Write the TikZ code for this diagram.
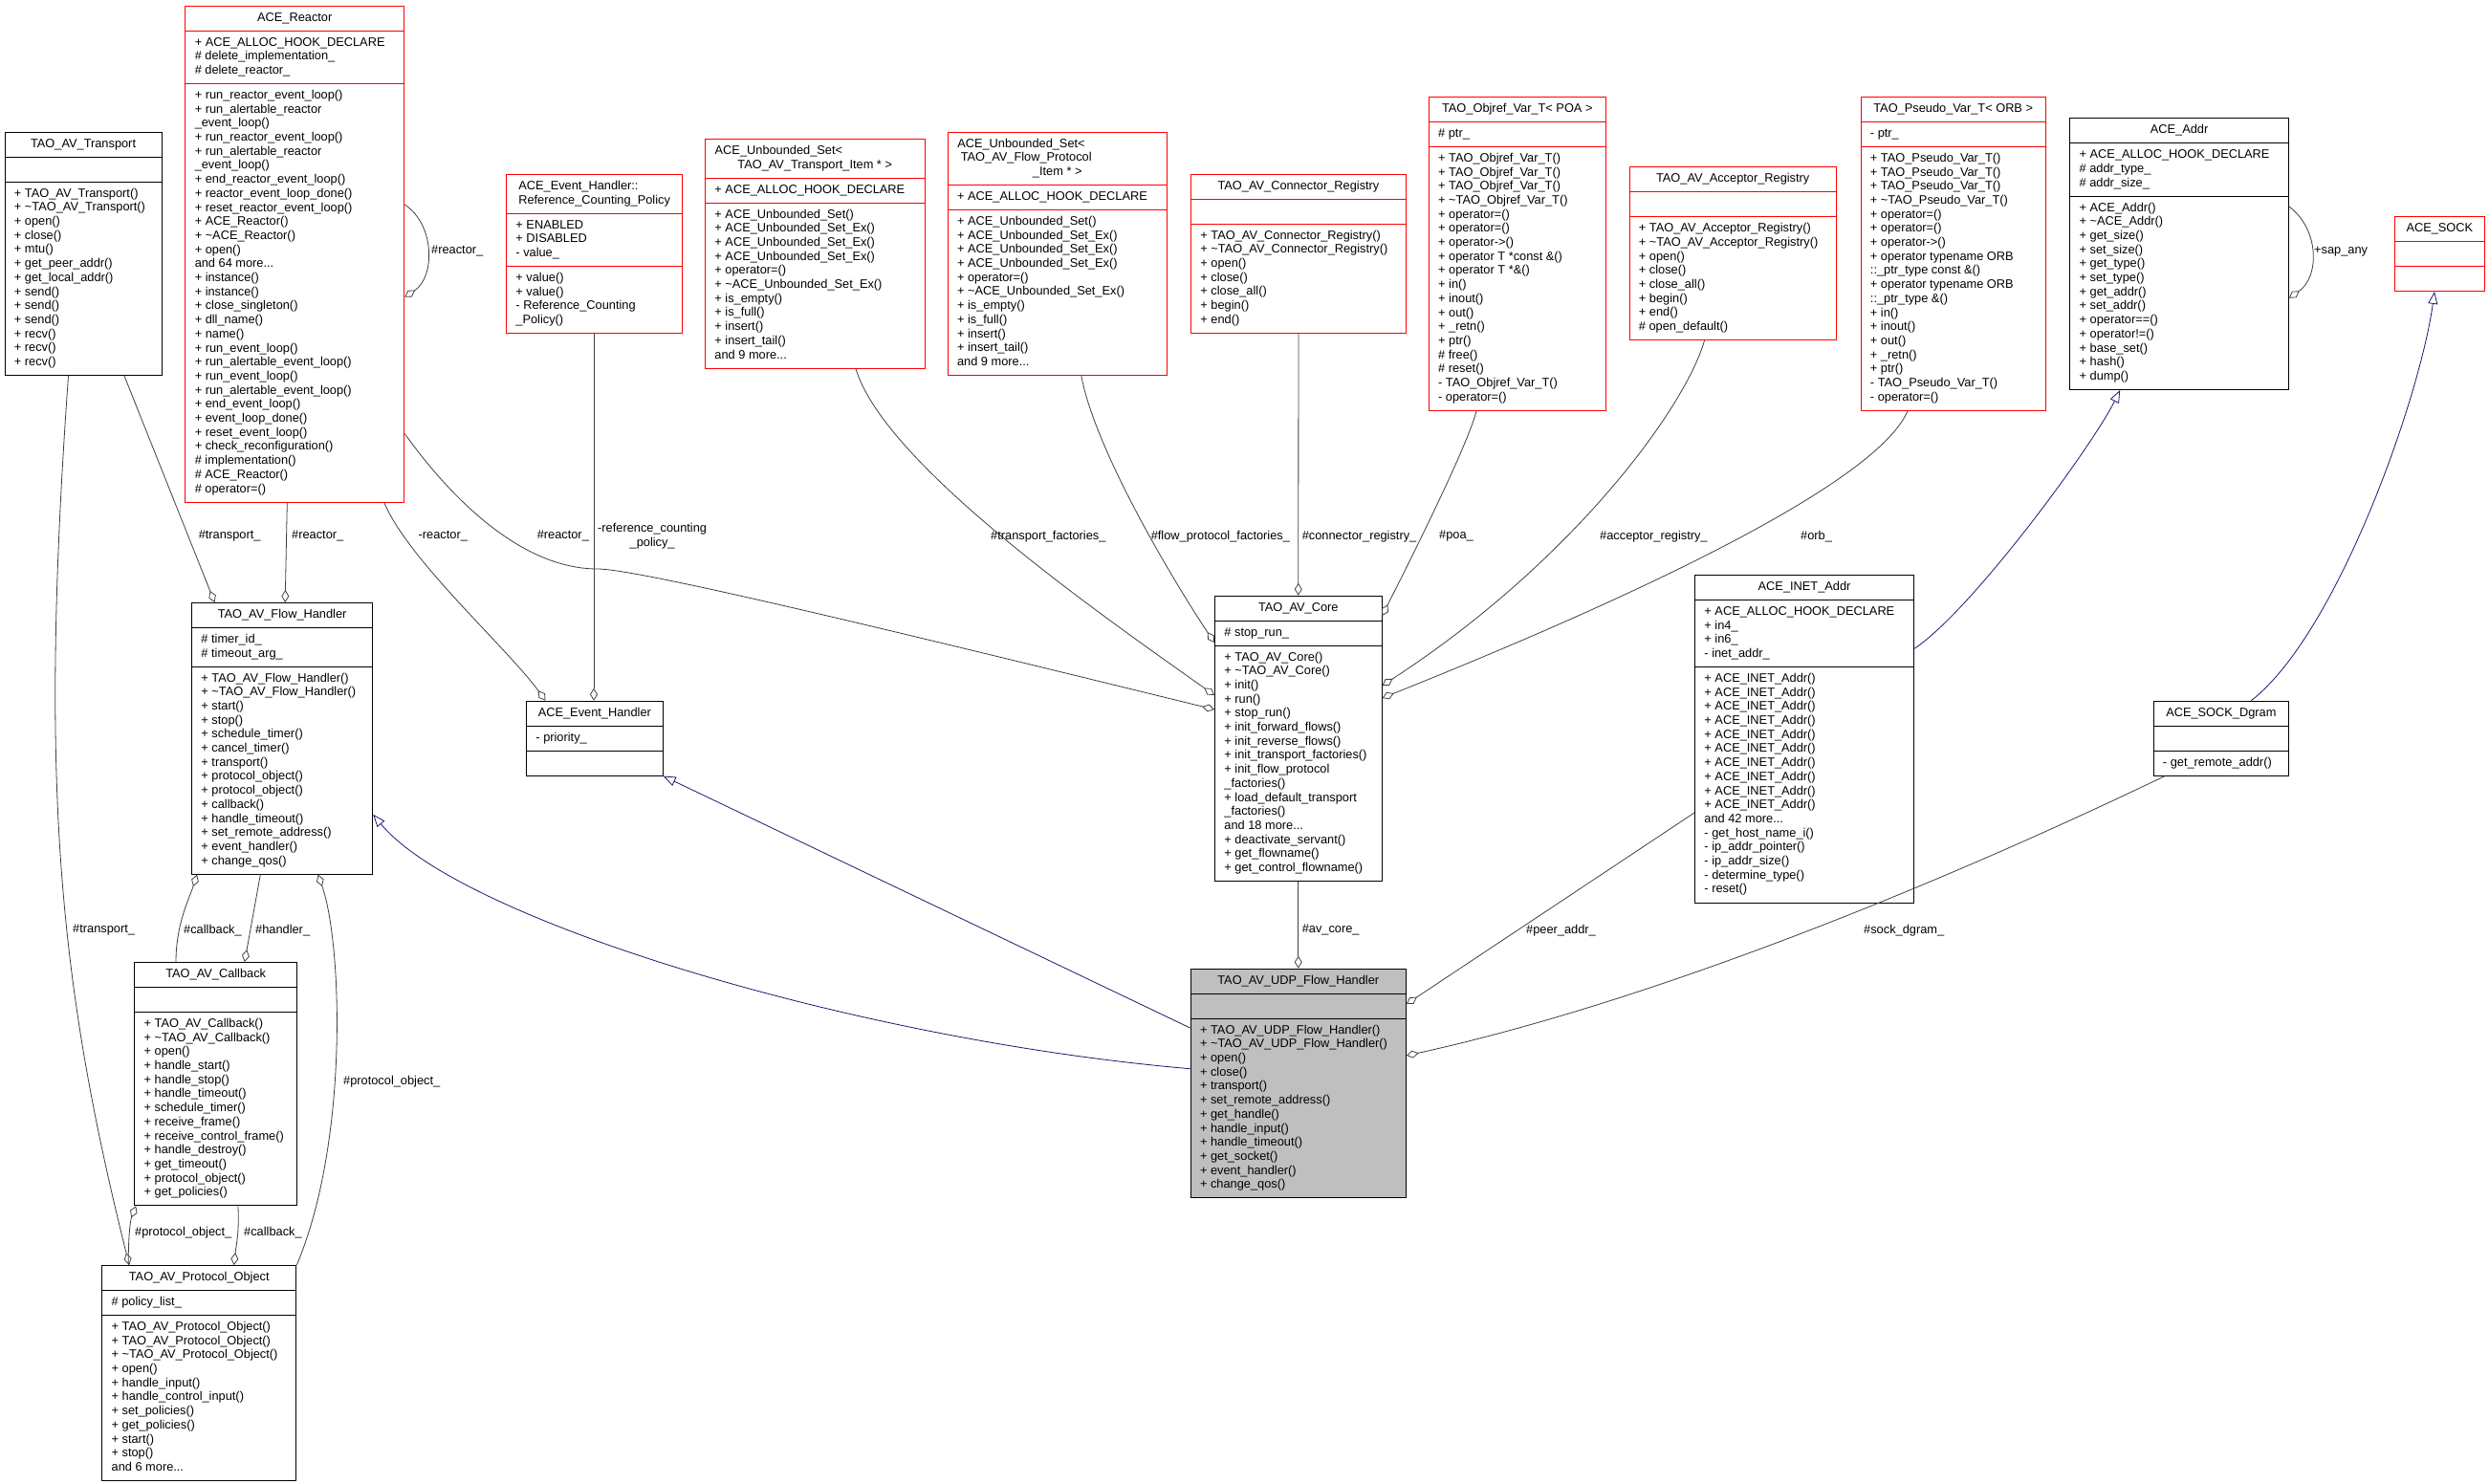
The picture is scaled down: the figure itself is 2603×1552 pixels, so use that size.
\documentclass[tikz,border=0pt]{standalone}
\usepackage{fontspec}
\setmainfont{Liberation Sans}
\usepackage{tikz}
\usetikzlibrary{shapes.multipart}
\usetikzlibrary{arrows.meta}
\usetikzlibrary{calc}
\definecolor{edgegray}{HTML}{404040}
\definecolor{inhblue}{HTML}{191970}
\definecolor{selfgray}{HTML}{BFBFBF}
\definecolor{undocred}{HTML}{FF0000}
\newcommand{\dxfont}{\fontsize{12.8pt}{14.7pt}\selectfont}
\newcommand{\mlist}[1]{\begin{tabular}{@{}l@{}}#1\end{tabular}}
\newcommand{\tl}{\textasciitilde}

\begin{document}
\begin{tikzpicture}[
x=1pt,y=-1pt,
ClassBox/.style={rectangle split, rectangle split parts=3, draw=black, line width=0.9pt,
  fill=white, anchor=north west, inner xsep=10pt, inner ysep=5.2pt, font=\dxfont,
  rectangle split part align={center,left,left}},
UndocBox/.style={ClassBox, draw=undocred},
SelfBox/.style={ClassBox, fill=selfgray},
UseEdge/.style={draw=edgegray, line width=0.8pt, -{Diamond[open,length=13pt,width=8pt]}},
InhEdge/.style={draw=inhblue, line width=0.8pt, -{Triangle[open,length=13pt,width=10pt]}},
EdgeLabel/.style={font=\dxfont, inner sep=0pt, anchor=west}
]
\useasboundingbox (0,0) rectangle (2603,1552);

% upper row
\node[ClassBox, minimum width=164.2pt] (tr) at (4.5,137.8)
{\mlist{TAO\_AV\_Transport}\nodepart{two}\strut\nodepart{three}\mlist{+ TAO\_AV\_Transport()\\+ \tl{}TAO\_AV\_Transport()\\+ open()\\+ close()\\+ mtu()\\+ get\_peer\_addr()\\+ get\_local\_addr()\\+ send()\\+ send()\\+ send()\\+ recv()\\+ recv()\\+ recv()}};

\node[UndocBox, minimum width=229pt] (re) at (193.3,5.7)
{\mlist{ACE\_Reactor}\nodepart{two}\mlist{+ ACE\_ALLOC\_HOOK\_DECLARE\\\# delete\_implementation\_\\\# delete\_reactor\_}\nodepart{three}\mlist{+ run\_reactor\_event\_loop()\\+ run\_alertable\_reactor\\\_event\_loop()\\+ run\_reactor\_event\_loop()\\+ run\_alertable\_reactor\\\_event\_loop()\\+ end\_reactor\_event\_loop()\\+ reactor\_event\_loop\_done()\\+ reset\_reactor\_event\_loop()\\+ ACE\_Reactor()\\+ \tl{}ACE\_Reactor()\\+ open()\\and 64 more...\\+ instance()\\+ instance()\\+ close\_singleton()\\+ dll\_name()\\+ name()\\+ run\_event\_loop()\\+ run\_alertable\_event\_loop()\\+ run\_event\_loop()\\+ run\_alertable\_event\_loop()\\+ end\_event\_loop()\\+ event\_loop\_done()\\+ reset\_event\_loop()\\+ check\_reconfiguration()\\\# implementation()\\\# ACE\_Reactor()\\\# operator=()}};

\node[UndocBox, minimum width=184.4pt] (rcp) at (529,182)
{\mlist{ACE\_Event\_Handler::\\Reference\_Counting\_Policy}\nodepart{two}\mlist{+ ENABLED\\+ DISABLED\\- value\_}\nodepart{three}\mlist{+ value()\\+ value()\\- Reference\_Counting\\\_Policy()}};

\node[UndocBox, minimum width=229.5pt] (ust) at (737,145)
{\mlist{ACE\_Unbounded\_Set<\\\makebox[209pt][c]{TAO\_AV\_Transport\_Item * >}}\nodepart{two}\mlist{+ ACE\_ALLOC\_HOOK\_DECLARE}\nodepart{three}\mlist{+ ACE\_Unbounded\_Set()\\+ ACE\_Unbounded\_Set\_Ex()\\+ ACE\_Unbounded\_Set\_Ex()\\+ ACE\_Unbounded\_Set\_Ex()\\+ operator=()\\+ \tl{}ACE\_Unbounded\_Set\_Ex()\\+ is\_empty()\\+ is\_full()\\+ insert()\\+ insert\_tail()\\and 9 more...}};

\node[UndocBox, minimum width=229.4pt] (usf) at (990.6,137.7)
{\mlist{ACE\_Unbounded\_Set<\\\ TAO\_AV\_Flow\_Protocol\\\makebox[209pt][c]{\_Item * >}}\nodepart{two}\mlist{+ ACE\_ALLOC\_HOOK\_DECLARE}\nodepart{three}\mlist{+ ACE\_Unbounded\_Set()\\+ ACE\_Unbounded\_Set\_Ex()\\+ ACE\_Unbounded\_Set\_Ex()\\+ ACE\_Unbounded\_Set\_Ex()\\+ operator=()\\+ \tl{}ACE\_Unbounded\_Set\_Ex()\\+ is\_empty()\\+ is\_full()\\+ insert()\\+ insert\_tail()\\and 9 more...}};

\node[UndocBox, minimum width=225pt] (cr) at (1245,181.7)
{\mlist{TAO\_AV\_Connector\_Registry}\nodepart{two}\strut\nodepart{three}\mlist{+ TAO\_AV\_Connector\_Registry()\\+ \tl{}TAO\_AV\_Connector\_Registry()\\+ open()\\+ close()\\+ close\_all()\\+ begin()\\+ end()}};

\node[UndocBox, minimum width=185.3pt] (obj) at (1493.7,101)
{\mlist{TAO\_Objref\_Var\_T< POA >}\nodepart{two}\mlist{\# ptr\_}\nodepart{three}\mlist{+ TAO\_Objref\_Var\_T()\\+ TAO\_Objref\_Var\_T()\\+ TAO\_Objref\_Var\_T()\\+ \tl{}TAO\_Objref\_Var\_T()\\+ operator=()\\+ operator=()\\+ operator->()\\+ operator T *const \&()\\+ operator T *\&()\\+ in()\\+ inout()\\+ out()\\+ \_retn()\\+ ptr()\\\# free()\\\# reset()\\- TAO\_Objref\_Var\_T()\\- operator=()}};

\node[UndocBox, minimum width=216.5pt] (acc) at (1703.5,174.3)
{\mlist{TAO\_AV\_Acceptor\_Registry}\nodepart{two}\strut\nodepart{three}\mlist{+ TAO\_AV\_Acceptor\_Registry()\\+ \tl{}TAO\_AV\_Acceptor\_Registry()\\+ open()\\+ close()\\+ close\_all()\\+ begin()\\+ end()\\\# open\_default()}};

\node[UndocBox, minimum width=193.5pt] (psv) at (1945.5,101)
{\mlist{TAO\_Pseudo\_Var\_T< ORB >}\nodepart{two}\mlist{- ptr\_}\nodepart{three}\mlist{+ TAO\_Pseudo\_Var\_T()\\+ TAO\_Pseudo\_Var\_T()\\+ TAO\_Pseudo\_Var\_T()\\+ \tl{}TAO\_Pseudo\_Var\_T()\\+ operator=()\\+ operator=()\\+ operator->()\\+ operator typename ORB\\::\_ptr\_type const \&()\\+ operator typename ORB\\::\_ptr\_type \&()\\+ in()\\+ inout()\\+ out()\\+ \_retn()\\+ ptr()\\- TAO\_Pseudo\_Var\_T()\\- operator=()}};

\node[ClassBox, minimum width=228.8pt] (addr) at (2164.2,123.3)
{\mlist{ACE\_Addr}\nodepart{two}\mlist{+ ACE\_ALLOC\_HOOK\_DECLARE\\\# addr\_type\_\\\# addr\_size\_}\nodepart{three}\mlist{+ ACE\_Addr()\\+ \tl{}ACE\_Addr()\\+ get\_size()\\+ set\_size()\\+ get\_type()\\+ set\_type()\\+ get\_addr()\\+ set\_addr()\\+ operator==()\\+ operator!=()\\+ base\_set()\\+ hash()\\+ dump()}};

\node[UndocBox, minimum width=94.2pt] (sock) at (2503.8,226)
{\mlist{ACE\_SOCK}\nodepart{two}\strut\nodepart{three}\strut};

% middle row
\node[ClassBox, minimum width=189.3pt] (fh) at (200,630)
{\mlist{TAO\_AV\_Flow\_Handler}\nodepart{two}\mlist{\# timer\_id\_\\\# timeout\_arg\_}\nodepart{three}\mlist{+ TAO\_AV\_Flow\_Handler()\\+ \tl{}TAO\_AV\_Flow\_Handler()\\+ start()\\+ stop()\\+ schedule\_timer()\\+ cancel\_timer()\\+ transport()\\+ protocol\_object()\\+ protocol\_object()\\+ callback()\\+ handle\_timeout()\\+ set\_remote\_address()\\+ event\_handler()\\+ change\_qos()}};

\node[ClassBox, minimum width=142.8pt] (eh) at (550,732.7)
{\mlist{ACE\_Event\_Handler}\nodepart{two}\mlist{- priority\_}\nodepart{three}\strut};

\node[ClassBox, minimum width=174.6pt] (core) at (1270,622.7)
{\mlist{TAO\_AV\_Core}\nodepart{two}\mlist{\# stop\_run\_}\nodepart{three}\mlist{+ TAO\_AV\_Core()\\+ \tl{}TAO\_AV\_Core()\\+ init()\\+ run()\\+ stop\_run()\\+ init\_forward\_flows()\\+ init\_reverse\_flows()\\+ init\_transport\_factories()\\+ init\_flow\_protocol\\\_factories()\\+ load\_default\_transport\\\_factories()\\and 18 more...\\+ deactivate\_servant()\\+ get\_flowname()\\+ get\_control\_flowname()}};

\node[ClassBox, minimum width=229.2pt] (inet) at (1772,601)
{\mlist{ACE\_INET\_Addr}\nodepart{two}\mlist{+ ACE\_ALLOC\_HOOK\_DECLARE\\+ in4\_\\+ in6\_\\- inet\_addr\_}\nodepart{three}\mlist{+ ACE\_INET\_Addr()\\+ ACE\_INET\_Addr()\\+ ACE\_INET\_Addr()\\+ ACE\_INET\_Addr()\\+ ACE\_INET\_Addr()\\+ ACE\_INET\_Addr()\\+ ACE\_INET\_Addr()\\+ ACE\_INET\_Addr()\\+ ACE\_INET\_Addr()\\+ ACE\_INET\_Addr()\\and 42 more...\\- get\_host\_name\_i()\\- ip\_addr\_pointer()\\- ip\_addr\_size()\\- determine\_type()\\- reset()}};

\node[ClassBox, minimum width=141.8pt] (dg) at (2251.5,732.7)
{\mlist{ACE\_SOCK\_Dgram}\nodepart{two}\strut\nodepart{three}\mlist{- get\_remote\_addr()}};

% lower row
\node[ClassBox, minimum width=170.1pt] (cb) at (140.2,1006)
{\mlist{TAO\_AV\_Callback}\nodepart{two}\strut\nodepart{three}\mlist{+ TAO\_AV\_Callback()\\+ \tl{}TAO\_AV\_Callback()\\+ open()\\+ handle\_start()\\+ handle\_stop()\\+ handle\_timeout()\\+ schedule\_timer()\\+ receive\_frame()\\+ receive\_control\_frame()\\+ handle\_destroy()\\+ get\_timeout()\\+ protocol\_object()\\+ get\_policies()}};

\node[SelfBox, minimum width=225.4pt] (udp) at (1244.6,1012.7)
{\mlist{TAO\_AV\_UDP\_Flow\_Handler}\nodepart{two}\strut\nodepart{three}\mlist{+ TAO\_AV\_UDP\_Flow\_Handler()\\+ \tl{}TAO\_AV\_UDP\_Flow\_Handler()\\+ open()\\+ close()\\+ transport()\\+ set\_remote\_address()\\+ get\_handle()\\+ handle\_input()\\+ handle\_timeout()\\+ get\_socket()\\+ event\_handler()\\+ change\_qos()}};

\node[ClassBox, minimum width=203.2pt] (po) at (106.2,1323)
{\mlist{TAO\_AV\_Protocol\_Object}\nodepart{two}\mlist{\# policy\_list\_}\nodepart{three}\mlist{+ TAO\_AV\_Protocol\_Object()\\+ TAO\_AV\_Protocol\_Object()\\+ \tl{}TAO\_AV\_Protocol\_Object()\\+ open()\\+ handle\_input()\\+ handle\_control\_input()\\+ set\_policies()\\+ get\_policies()\\+ start()\\+ stop()\\and 6 more...}};

% members
\coordinate (rcbend) at (625,595);
\draw[UseEdge] ($(re.north east)+(0,208.3)$) .. controls +(32,21) and +(32,-21) .. ($(re.north east)+(0,305)$);
\draw[UseEdge] ($(tr.south west)+(125.5,0)$) -- ($(fh.north west)+(24.5,0)$);
\draw[UseEdge] ($(re.south west)+(107,0)$) -- ($(fh.north west)+(98.2,0)$);
\draw[UseEdge] ($(re.south west)+(208.5,0)$) .. controls +(25,60) and +(-40,-55) .. ($(eh.north west)+(20.5,0)$);
\draw[UseEdge] ($(rcp.south west)+(92,0)$) -- ($(eh.north west)+(71,0)$);
\draw[UseEdge] ($(re.north east)+(0,447.8)$) .. controls +(48,67) and +(-80,0) .. (rcbend)
  .. controls +(45,0) and +(-300,-73.5) .. ($(core.north west)+(0,119.3)$);
\draw[UseEdge] ($(ust.south west)+(158,0)$) .. controls +(30,100) and +(-120,-85) .. ($(core.north west)+(0,104.3)$);
\draw[UseEdge] ($(usf.south west)+(140.2,0)$) .. controls +(15,80) and +(-40,-60) .. ($(core.north west)+(0,49.3)$);
\draw[UseEdge] (cr.south) -- (core.north);
\draw[UseEdge] ($(obj.south west)+(50.3,0)$) .. controls +(-10,40) and +(15,-30) .. ($(core.north east)+(0,21.3)$);
\draw[UseEdge] ($(acc.south west)+(79,0)$) .. controls +(-20,70) and +(200,-130) .. ($(core.north east)+(0,94.3)$);
\draw[UseEdge] ($(psv.south west)+(49.5,0)$) .. controls +(-30,70) and +(300,-120) .. ($(core.north east)+(0,107.3)$);
\draw[UseEdge] ($(addr.north east)+(0,92.7)$) .. controls +(32,24) and +(32,-22) .. ($(addr.north east)+(0,188.4)$);
\draw[UseEdge] (core.south) -- (udp.north);
\draw[UseEdge] ($(inet.north west)+(0,249)$) -- ($(udp.north east)+(0,37.3)$);
\draw[UseEdge] ($(dg.south west)+(12.5,0)$) .. controls +(-250,120) and +(250,-55) .. ($(udp.north east)+(0,91.3)$);
\draw[UseEdge] ($(cb.north west)+(43.8,0)$) .. controls +(0,-40) and +(-8,25) .. ($(fh.south west)+(6,0)$);
\draw[UseEdge] ($(fh.south west)+(72.3,0)$) -- ($(cb.north west)+(115.6,0)$);
\draw[UseEdge] (po.north east) .. controls +(55,-130) and +(25,70) .. ($(fh.south west)+(132.6,0)$);
\draw[UseEdge] ($(po.north west)+(28,0)$) .. controls +(0,-30) and +(-6,15) .. ($(cb.south west)+(2,0)$);
\draw[UseEdge] ($(cb.south west)+(108.8,0)$) .. controls +(1,30) and +(3,-25) .. ($(po.north west)+(138.4,0)$);
\draw[UseEdge] ($(tr.south west)+(67,0)$) .. controls +(-30,420) and +(-75,-300) .. ($(po.north west)+(29,0)$);

% inheritance
\draw[InhEdge] ($(inet.north east)+(0,77.3)$) .. controls +(60,-40) and +(-30,60) .. ($(addr.south west)+(53,0)$);
\draw[InhEdge] ($(dg.north west)+(102.8,0)$) .. controls +(90,-70) and +(-15,110) .. ($(sock.south west)+(42.2,0)$);
\draw[InhEdge] ($(udp.north west)+(0,105)$) .. controls +(-350,-30) and +(90,110) .. ($(fh.north east)+(0,221.7)$);
\draw[InhEdge] ($(udp.north west)+(0,62.3)$) -- (eh.south east);

% labels
\node[EdgeLabel] (lrs) at (451,262.5) {\#reactor\_};
\node[EdgeLabel] (ltr1) at (207.6,560.7) {\#transport\_};
\node[EdgeLabel] (lre1) at (305,560.7) {\#reactor\_};
\node[EdgeLabel] (lre2) at (437.5,560.7) {-reactor\_};
\node[EdgeLabel] (lre3) at (561.6,560.7) {\#reactor\_};
\node[EdgeLabel, align=center] (lrcp) at (625,560.5) {-reference\_counting\\\_policy\_};
\node[EdgeLabel] (ltf) at (1036,561) {\#transport\_factories\_};
\node[EdgeLabel] (lfpf) at (1203.6,560.7) {\#flow\_protocol\_factories\_};
\node[EdgeLabel] (lcr) at (1361.6,560.7) {\#connector\_registry\_};
\node[EdgeLabel] (lpoa) at (1505,560.7) {\#poa\_};
\node[EdgeLabel] (lacc) at (1673,560.7) {\#acceptor\_registry\_};
\node[EdgeLabel] (lorb) at (1883,560.7) {\#orb\_};
\node[EdgeLabel] (lsap) at (2420,263.3) {+sap\_any};
\node[EdgeLabel] (ltr2) at (76,972.7) {\#transport\_};
\node[EdgeLabel] (lcb1) at (192,972.7) {\#callback\_};
\node[EdgeLabel] (lhd) at (267,972.7) {\#handler\_};
\node[EdgeLabel] (lpo1) at (359,1131) {\#protocol\_object\_};
\node[EdgeLabel] (lpo2) at (141,1289.4) {\#protocol\_object\_};
\node[EdgeLabel] (lcb2) at (255,1289.4) {\#callback\_};
\node[EdgeLabel] (lav) at (1361.6,972.7) {\#av\_core\_};
\node[EdgeLabel] (lpa) at (1596,972.7) {\#peer\_addr\_};
\node[EdgeLabel] (lsd) at (1949,972.7) {\#sock\_dgram\_};

\end{tikzpicture}
\end{document}
